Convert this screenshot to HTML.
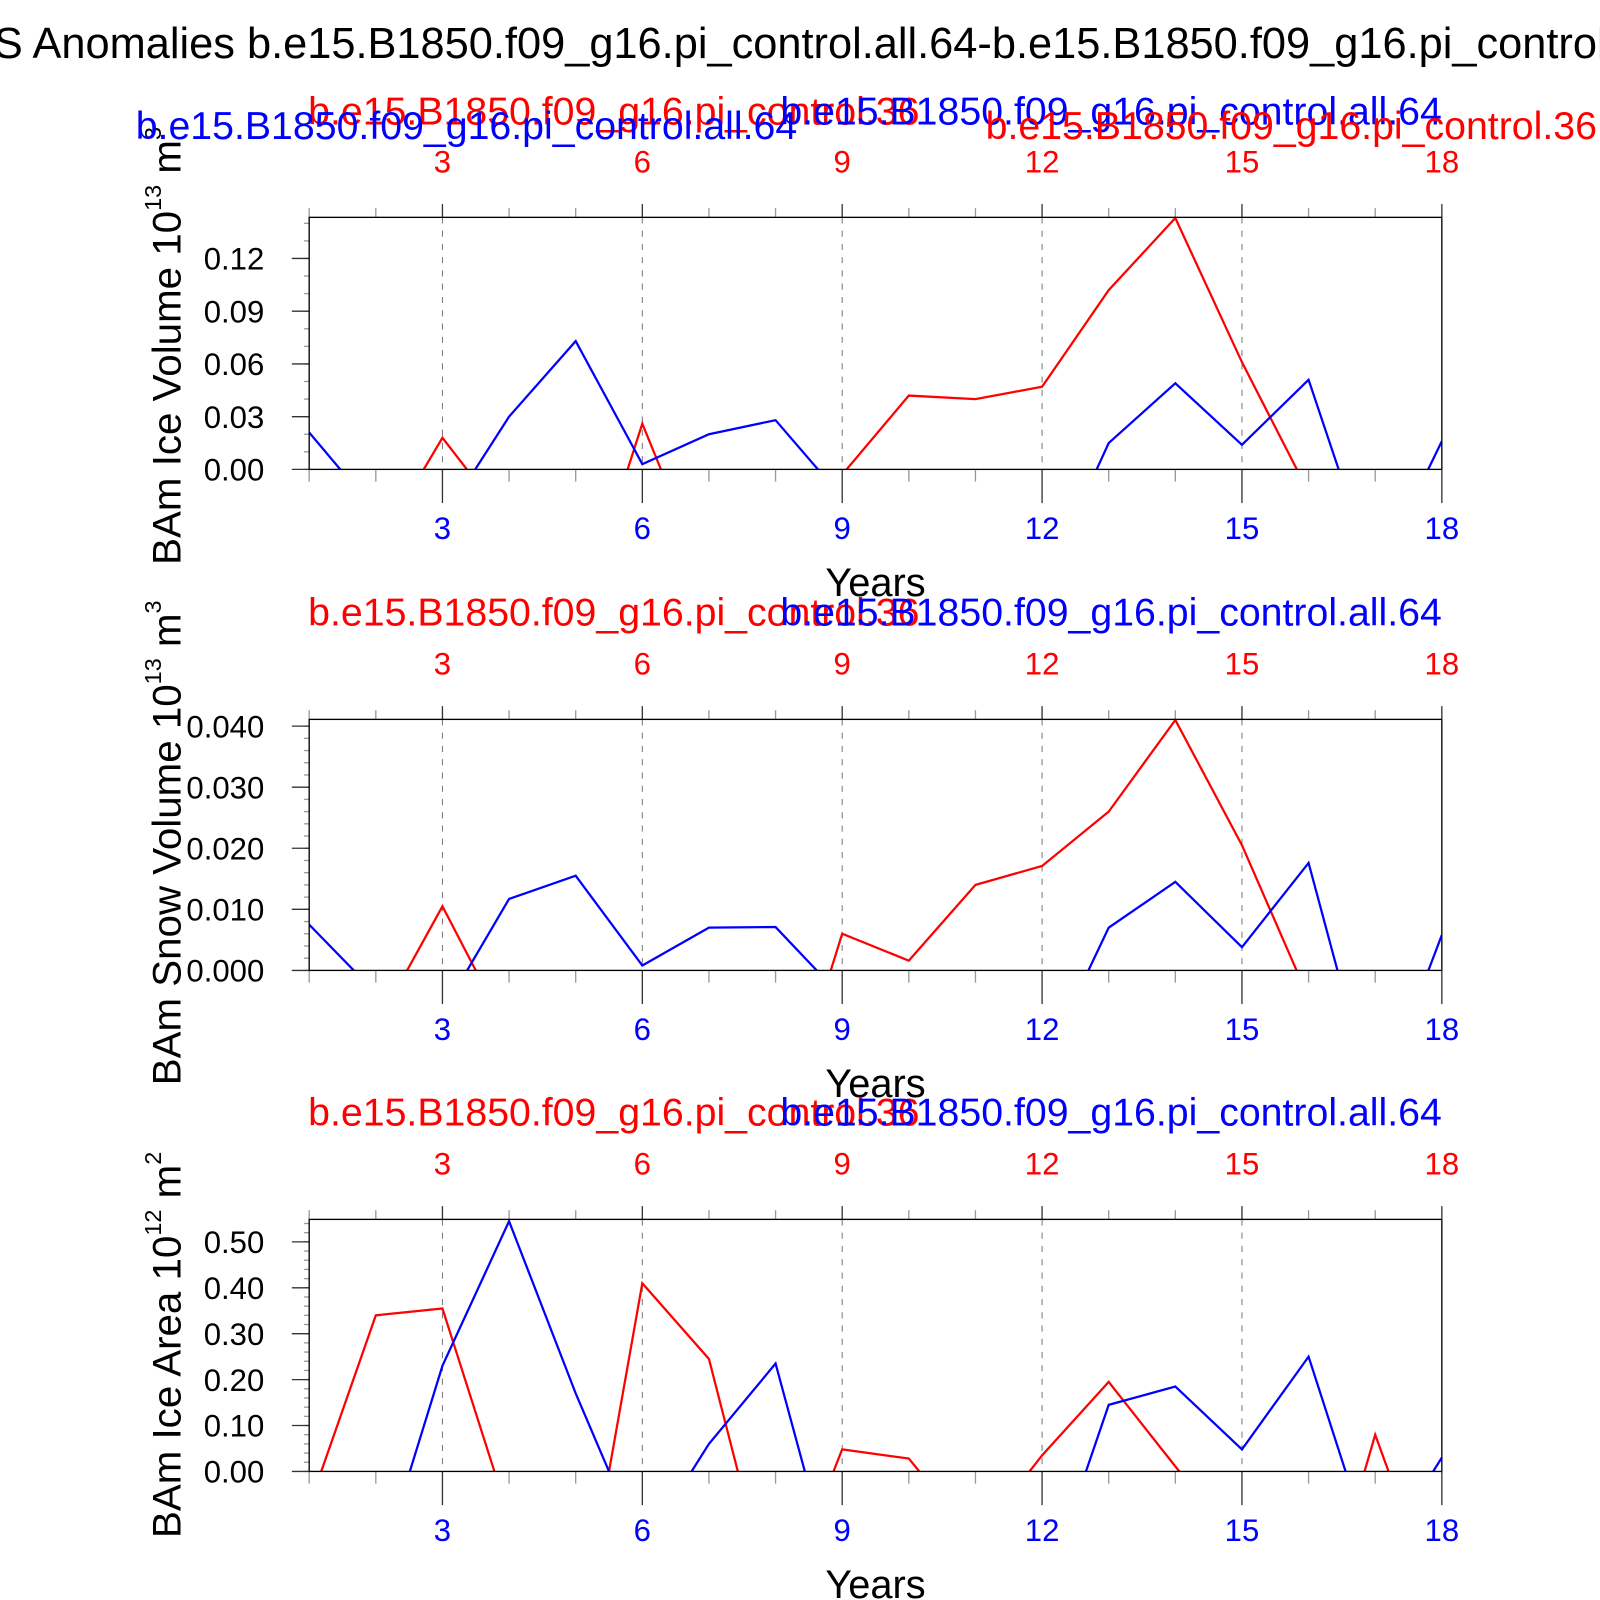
<!DOCTYPE html>
<html><head><meta charset="utf-8"><style>
html,body{margin:0;padding:0;background:#fff;}
svg{display:block;font-family:"Liberation Sans",sans-serif;}
</style></head><body>
<svg id="chart" width="1600" height="1600" viewBox="0 0 1568 1568" xmlns="http://www.w3.org/2000/svg">
<rect width="1568" height="1568" fill="#fff"/>
<text x="-6" y="57" font-size="42.5" fill="#000">S Anomalies b.e15.B1850.f09_g16.pi_control.all.64-b.e15.B1850.f09_g16.pi_control.36</text>
<g id="plots"></g>
</svg>
<script>
const years = [1,2,3,4,5,6,7,8,9,10,11,12,13,14,15,16,17,18];
const iceVolBlue = [0.021,-0.024,-0.029,0.030,0.073,0.003,0.020,0.028,-0.016,-0.03,-0.03,-0.068,0.015,0.049,0.014,0.051,-0.062,0.016];
const iceVolRed  = [-0.03,-0.046,0.018,-0.031,-0.092,0.026,-0.067,-0.03,-0.003,0.042,0.040,0.047,0.102,0.143,0.061,-0.013,-0.03,-0.03];
const snowVolBlue = [0.0075,-0.0037,-0.0069,0.0117,0.0155,0.0008,0.0070,0.0071,-0.0044,-0.005,-0.005,-0.016,0.0070,0.0145,0.0038,0.0176,-0.023,0.0058];
const snowVolRed  = [-0.01,-0.0093,0.0105,-0.0105,-0.01,-0.01,-0.01,-0.029,0.0060,0.0016,0.0140,0.0171,0.0260,0.0410,0.0205,-0.0045,-0.01,-0.01];
const iceAreaBlue = [-0.2,-0.24,0.23,0.545,0.17,-0.17,0.06,0.235,-0.3,-0.3,-0.3,-0.28,0.145,0.185,0.048,0.25,-0.2,0.03];
const iceAreaRed  = [-0.075,0.34,0.355,-0.1,-0.41,0.41,0.245,-0.32,0.048,0.028,-0.15,0.035,0.195,0.011,-0.17,-0.42,0.08,-0.32];
const xTicks = [3,6,9,12,15,18];
const yTicks1 = ["0.00","0.03","0.06","0.09","0.12"];
const yTicks2 = ["0.000","0.010","0.020","0.030","0.040"];
const yTicks3 = ["0.00","0.10","0.20","0.30","0.40","0.50"];

const NS="http://www.w3.org/2000/svg";
const root=document.getElementById('plots');
const X0=303, X1=1413;
function xs(v){return X0+(v-1)/(17)*(X1-X0);}
function mk(tag,attrs,parent){const e=document.createElementNS(NS,tag);for(const k in attrs)e.setAttribute(k,attrs[k]);(parent||root).appendChild(e);return e;}

const panels=[
 {top:213,zero:460,ymax:0.1434,minor:0.01,ticks:yTicks1,blue:iceVolBlue,red:iceVolRed,title:["BAm Ice Volume 10","13"," m","3"],tcy:339,dual:true,nm:"ice-volume"},
 {top:705,zero:951,ymax:0.0411,minor:0.002,ticks:yTicks2,blue:snowVolBlue,red:snowVolRed,title:["BAm Snow Volume 10","13"," m","3"],tcy:826,dual:false,nm:"snow-volume"},
 {top:1195,zero:1442,ymax:0.549,minor:0.02,ticks:yTicks3,blue:iceAreaBlue,red:iceAreaRed,title:["BAm Ice Area 10","12"," m","2"],tcy:1318,dual:false,nm:"ice-area"}
];
const RED="#ff0000", BLUE="#0000ff";
const lab1="b.e15.B1850.f09_g16.pi_control.36", lab2="b.e15.B1850.f09_g16.pi_control.all.64";
const SF=38.5;
panels.forEach((p,pi)=>{
 const g=mk('g',{});
 
 
 const ys=v=>p.zero-(v/p.ymax)*(p.zero-p.top);
 const cid='clip'+pi;
 const cp=mk('clipPath',{id:cid},g);
 mk('rect',{x:X0,y:p.top-1,width:X1-X0,height:p.zero-p.top+1},cp);
 xTicks.slice(0,-1).forEach(t=>{const l=mk('line',{x1:xs(t),x2:xs(t),y1:p.top,y2:p.zero,stroke:"#777","stroke-width":1,"stroke-dasharray":"6,7"},g);
  
  });
 years.forEach(t=>{const maj=xTicks.includes(t);
  mk('line',{x1:xs(t),x2:xs(t),y1:p.top,y2:p.top-(maj?13:9),stroke:maj?"#333":"#999","stroke-width":1.3},g);
  mk('line',{x1:xs(t),x2:xs(t),y1:p.zero,y2:p.zero+(maj?33:12),stroke:maj?"#333":"#999","stroke-width":1.3},g);});
 const nMin=Math.floor(p.ymax/p.minor+1e-6);
 for(let i=0;i<=nMin;i++){const v=i*p.minor;const y=ys(v);
  mk('line',{x1:X0-5,x2:X0,y1:y,y2:y,stroke:"#999","stroke-width":1.3},g);}
 p.ticks.forEach(t=>{const y=ys(parseFloat(t));
  mk('line',{x1:X0-17,x2:X0,y1:y,y2:y,stroke:"#333","stroke-width":1.3},g);
  const tx=mk('text',{x:259,y:y+11,"font-size":30.5,"text-anchor":"end",fill:"#000"},g);tx.textContent=t;
  
  });
 [[p.red,RED,'red-series'],[p.blue,BLUE,'blue-series']].forEach(([arr,c,n])=>{
  const pl=mk('polyline',{points:arr.map((v,i)=>xs(years[i])+","+ys(v)).join(" "),fill:"none",stroke:c,"stroke-width":2.2,"clip-path":"url(#"+cid+")"},g);
  
  });
 mk('rect',{x:X0,y:p.top,width:X1-X0,height:p.zero-p.top,fill:"none",stroke:"#000","stroke-width":1.3},g);
 xTicks.forEach(t=>{
  const a=mk('text',{x:xs(t),y:p.top-44,"font-size":30.5,"text-anchor":"middle",fill:RED},g);a.textContent=t;
  
  
  const b=mk('text',{x:xs(t),y:p.zero+68,"font-size":30.5,"text-anchor":"middle",fill:BLUE},g);b.textContent=t;
  
  });
 const yr=mk('text',{x:858,y:p.zero+124,"font-size":39,"text-anchor":"middle",fill:"#000"},g);yr.textContent="Years";
 
 
 const yt=mk('text',{transform:"translate(177,"+p.tcy+") rotate(-90)","font-size":39.5,"text-anchor":"middle",fill:"#000"},g);
 
 
 p.title.forEach((s,i)=>{const ts=mk('tspan',i%2?{"font-size":23,dy:-19}:(i?{dy:19}:{}),yt);ts.textContent=s;});
 const sb=p.top-91;
 if(p.dual){
  const s1=mk('text',{x:302,y:sb,"font-size":SF,fill:RED},g);s1.textContent=lab1;
  
  const s2=mk('text',{x:133,y:sb+14,"font-size":SF,fill:BLUE},g);s2.textContent=lab2;
  
  const s3=mk('text',{x:1413,y:sb,"font-size":SF,fill:BLUE,"text-anchor":"end"},g);s3.textContent=lab2;
  
  const s4=mk('text',{x:1565,y:sb+14,"font-size":SF,fill:RED,"text-anchor":"end"},g);s4.textContent=lab1;
  
 } else {
  const s1=mk('text',{x:302,y:p.top-92,"font-size":SF,fill:RED},g);s1.textContent=lab1;
  
  const s3=mk('text',{x:1413,y:p.top-92,"font-size":SF,fill:BLUE,"text-anchor":"end"},g);s3.textContent=lab2;
  
 }
});
</script>
</body></html>
